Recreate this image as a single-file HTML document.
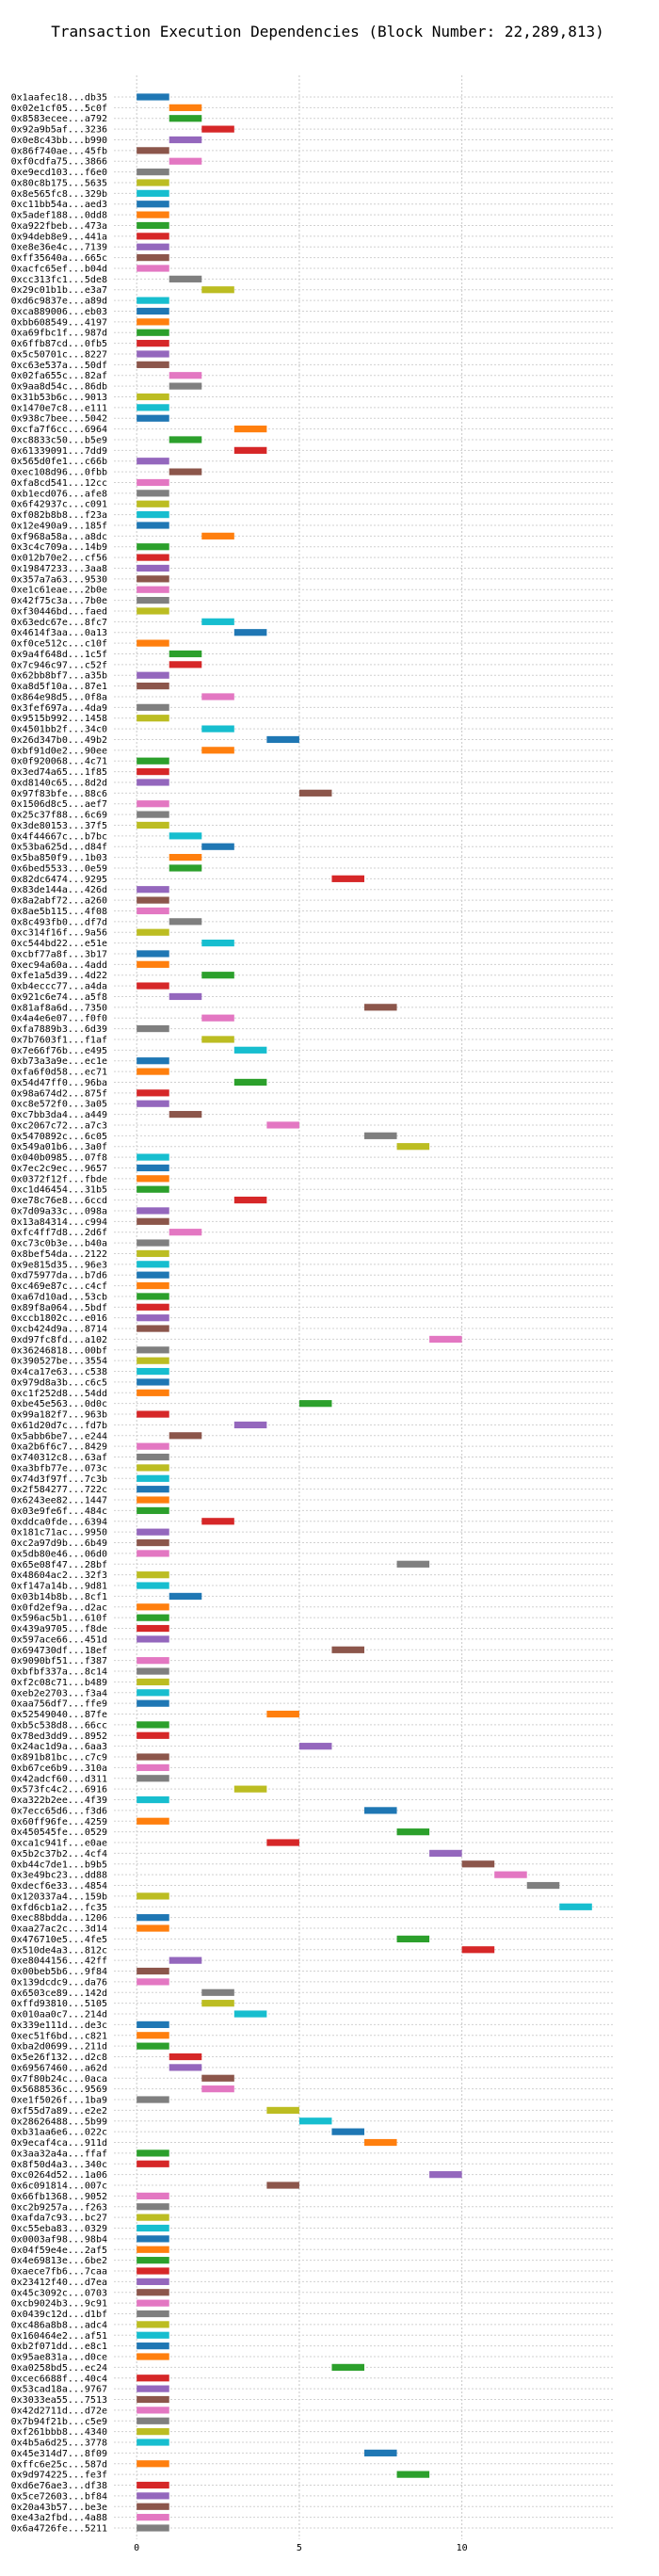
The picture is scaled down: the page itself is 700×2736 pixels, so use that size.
<!DOCTYPE html>
<html><head><meta charset="utf-8">
<style>
html,body{margin:0;padding:0;background:#fff;}
svg{display:block;}
text{font-family:"DejaVu Sans Mono","Liberation Mono",monospace;}
</style></head>
<body>
<svg id="chart" xmlns="http://www.w3.org/2000/svg" width="700" height="2736" viewBox="0 0 700 2736">
<text x="348" y="39" text-anchor="middle" font-size="16" fill="#000">Transaction Execution Dependencies (Block Number: 22,289,813)</text>
<g id="grid"></g><g id="bars"></g><g id="labels"></g><g id="xticks"></g>
</svg>
<script>
const txLabels = ["0x1aafec18...db35","0x02e1cf05...5c0f","0x8583ecee...a792","0x92a9b5af...3236","0x0e8c43bb...b990","0x86f740ae...45fb","0xf0cdfa75...3866","0xe9ecd103...f6e0","0x80c8b175...5635","0x8e565fc8...329b","0xc11bb54a...aed3","0x5adef188...0dd8","0xa922fbeb...473a","0x94deb8e9...441a","0xe8e36e4c...7139","0xff35640a...665c","0xacfc65ef...b04d","0xcc313fc1...5de8","0x29c01b1b...e3a7","0xd6c9837e...a89d","0xca889006...eb03","0xbb608549...4197","0xa69fbc1f...987d","0x6ffb87cd...0fb5","0x5c50701c...8227","0xc63e537a...50df","0x02fa655c...82af","0x9aa8d54c...86db","0x31b53b6c...9013","0x1470e7c8...e111","0x938c7bee...5042","0xcfa7f6cc...6964","0xc8833c50...b5e9","0x61339091...7dd9","0x565d0fe1...c66b","0xec108d96...0fbb","0xfa8cd541...12cc","0xb1ecd076...afe8","0x6f42937c...c091","0xf082b8b8...f23a","0x12e490a9...185f","0xf968a58a...a8dc","0x3c4c709a...14b9","0x012b70e2...cf56","0x19847233...3aa8","0x357a7a63...9530","0xe1c61eae...2b0e","0x42f75c3a...7b0e","0xf30446bd...faed","0x63edc67e...8fc7","0x4614f3aa...0a13","0xf0ce512c...c10f","0x9a4f648d...1c5f","0x7c946c97...c52f","0x62bb8bf7...a35b","0xa8d5f10a...87e1","0x864e98d5...0f8a","0x3fef697a...4da9","0x9515b992...1458","0x4501bb2f...34c0","0x26d347b0...49b2","0xbf91d0e2...90ee","0x0f920068...4c71","0x3ed74a65...1f85","0xd8140c65...8d2d","0x97f83bfe...88c6","0x1506d8c5...aef7","0x25c37f88...6c69","0x3de80153...37f5","0x4f44667c...b7bc","0x53ba625d...d84f","0x5ba850f9...1b03","0x6bed5533...0e59","0x82dc6474...9295","0x83de144a...426d","0x8a2abf72...a260","0x8ae5b115...4f08","0x8c493fb0...df7d","0xc314f16f...9a56","0xc544bd22...e51e","0xcbf77a8f...3b17","0xec94a60a...4add","0xfe1a5d39...4d22","0xb4eccc77...a4da","0x921c6e74...a5f8","0x81af8a6d...7350","0x4a4e6e07...f0f0","0xfa7889b3...6d39","0x7b7603f1...f1af","0x7e66f76b...e495","0xb73a3a9e...ec1e","0xfa6f0d58...ec71","0x54d47ff0...96ba","0x98a674d2...875f","0xc8e572f0...3a05","0xc7bb3da4...a449","0xc2067c72...a7c3","0x5470892c...6c05","0x549a01b6...3a0f","0x040b0985...07f8","0x7ec2c9ec...9657","0x0372f12f...fbde","0xc1d46454...31b5","0xe78c76e8...6ccd","0x7d09a33c...098a","0x13a84314...c994","0xfc4ff7d8...2d6f","0xc73c0b3e...b40a","0x8bef54da...2122","0x9e815d35...96e3","0xd75977da...b7d6","0xc469e87c...c4cf","0xa67d10ad...53cb","0x89f8a064...5bdf","0xccb1802c...e016","0xcb424d9a...8714","0xd97fc8fd...a102","0x36246818...00bf","0x390527be...3554","0x4ca17e63...c538","0x979d8a3b...c6c5","0xc1f252d8...54dd","0xbe45e563...0d0c","0x99a182f7...963b","0x61d20d7c...fd7b","0x5abb6be7...e244","0xa2b6f6c7...8429","0x740312c8...63af","0xa3bfb77e...073c","0x74d3f97f...7c3b","0x2f584277...722c","0x6243ee82...1447","0x03e9fe6f...484c","0xddca0fde...6394","0x181c71ac...9950","0xc2a97d9b...6b49","0x5db80e46...06d0","0x65e08f47...28bf","0x48604ac2...32f3","0xf147a14b...9d81","0x03b14b8b...8cf1","0x0fd2ef9a...d2ac","0x596ac5b1...610f","0x439a9705...f8de","0x597ace66...451d","0x694730df...18ef","0x9090bf51...f387","0xbfbf337a...8c14","0xf2c08c71...b489","0xeb2e2703...f3a4","0xaa756df7...ffe9","0x52549040...87fe","0xb5c538d8...66cc","0x78ed3dd9...8952","0x24ac1d9a...6aa3","0x891b81bc...c7c9","0xb67ce6b9...310a","0x42adcf60...d311","0x573fc4c2...6916","0xa322b2ee...4f39","0x7ecc65d6...f3d6","0x60ff96fe...4259","0x450545fe...0529","0xca1c941f...e0ae","0x5b2c37b2...4cf4","0xb44c7de1...b9b5","0x3e49bc23...dd88","0xdecf6e33...4854","0x120337a4...159b","0xfd6cb1a2...fc35","0xec88bdda...1206","0xaa27ac2c...3d14","0x476710e5...4fe5","0x510de4a3...812c","0xe8044156...42ff","0x00beb5b6...9f84","0x139dcdc9...da76","0x6503ce89...142d","0xffd93810...5105","0x010aa0c7...214d","0x339e111d...de3c","0xec51f6bd...c821","0xba2d0699...211d","0x5e26f132...d2c8","0x69567460...a62d","0x7f80b24c...0aca","0x5688536c...9569","0xe1f5026f...1ba9","0xf55d7a89...e2e2","0x28626488...5b99","0xb31aa6e6...022c","0x9ecaf4ca...911d","0x3aa32a4a...ffaf","0x8f50d4a3...340c","0xc0264d52...1a06","0x6c091814...007c","0x66fb1368...9052","0xc2b9257a...f263","0xafda7c93...bc27","0xc55eba83...0329","0x0003af98...98b4","0x04f59e4e...2af5","0x4e69813e...6be2","0xaece7fb6...7caa","0x23412f40...d7ea","0x45c3092c...0703","0xcb9024b3...9c91","0x0439c12d...d1bf","0xc486a8b8...adc4","0x160464e2...af51","0xb2f071dd...e8c1","0x95ae831a...d0ce","0xa0258bd5...ec24","0xcec6688f...40c4","0x53cad18a...9767","0x3033ea55...7513","0x42d2711d...d72e","0x7b94f21b...c5e9","0xf261bbb8...4340","0x4b5a6d25...3778","0x45e314d7...8f09","0xffc6e25c...587d","0x9d974225...fe3f","0xd6e76ae3...df38","0x5ce72603...bf84","0x20a43b57...be3e","0xe43a2fbd...4a88","0x6a4726fe...5211"];
const startSteps = [0,1,1,2,1,0,1,0,0,0,0,0,0,0,0,0,0,1,2,0,0,0,0,0,0,0,1,1,0,0,0,3,1,3,0,1,0,0,0,0,0,2,0,0,0,0,0,0,0,2,3,0,1,1,0,0,2,0,0,2,4,2,0,0,0,5,0,0,0,1,2,1,1,6,0,0,0,1,0,2,0,0,2,0,1,7,2,0,2,3,0,0,3,0,0,1,4,7,8,0,0,0,0,3,0,0,1,0,0,0,0,0,0,0,0,0,9,0,0,0,0,0,5,0,3,1,0,0,0,0,0,0,0,2,0,0,0,8,0,0,1,0,0,0,0,6,0,0,0,0,0,4,0,0,5,0,0,0,3,0,7,0,8,4,9,10,11,12,0,13,0,0,8,10,1,0,0,2,2,3,0,0,0,1,1,2,2,0,4,5,6,7,0,0,9,4,0,0,0,0,0,0,0,0,0,0,0,0,0,0,0,0,6,0,0,0,0,0,0,0,7,0,8,0,0,0,0,0];
const durations = startSteps.map(()=>1);
const xTickValues = [0,5,10];
const palette = ["#1f77b4","#ff7f0e","#2ca02c","#d62728","#9467bd","#8c564b","#e377c2","#7f7f7f","#bcbd22","#17becf"];

const NS="http://www.w3.org/2000/svg";
const axL=121, axR=653, xMin=-0.7, xMax=14.7;
const y0=103, pitch=(2685-103)/227, gridTop=80, gridBot=2697;
function xs(v){return axL+(v-xMin)/(xMax-xMin)*(axR-axL);}
function ys(i){return y0+i*pitch;}
function mk(tag,attrs,parent){const e=document.createElementNS(NS,tag);for(const k in attrs)e.setAttribute(k,attrs[k]);parent.appendChild(e);return e;}
const grid=document.getElementById('grid'),bars=document.getElementById('bars'),labels=document.getElementById('labels'),xt=document.getElementById('xticks');

xTickValues.forEach(v=>{
  const l=mk('line',{x1:xs(v),x2:xs(v),y1:gridTop,y2:gridBot,stroke:'#c8c8c8','stroke-width':1,'stroke-dasharray':'2,2'},grid);
  
  
  const t=mk('text',{x:xs(v),y:2709,'text-anchor':'middle','font-size':10,fill:'#000'},xt);
  t.textContent=String(v);
  
  
});
txLabels.forEach((lab,i)=>{
  const y=ys(i);
  const g=mk('line',{x1:axL,x2:axR,y1:y,y2:y,stroke:'#d0d0d0','stroke-width':1,'stroke-dasharray':'2,2'},grid);
  
  
  const t=mk('text',{x:114,y:y+3.5,'text-anchor':'end','font-size':10,fill:'#000'},labels);
  t.textContent=lab;
  
  
  const s=startSteps[i], d=durations[i];
  const r=mk('rect',{x:xs(s),y:y-3.6,width:xs(s+d)-xs(s),height:7.2,fill:palette[i%10]},bars);
  
  
});
</script>
</body></html>
